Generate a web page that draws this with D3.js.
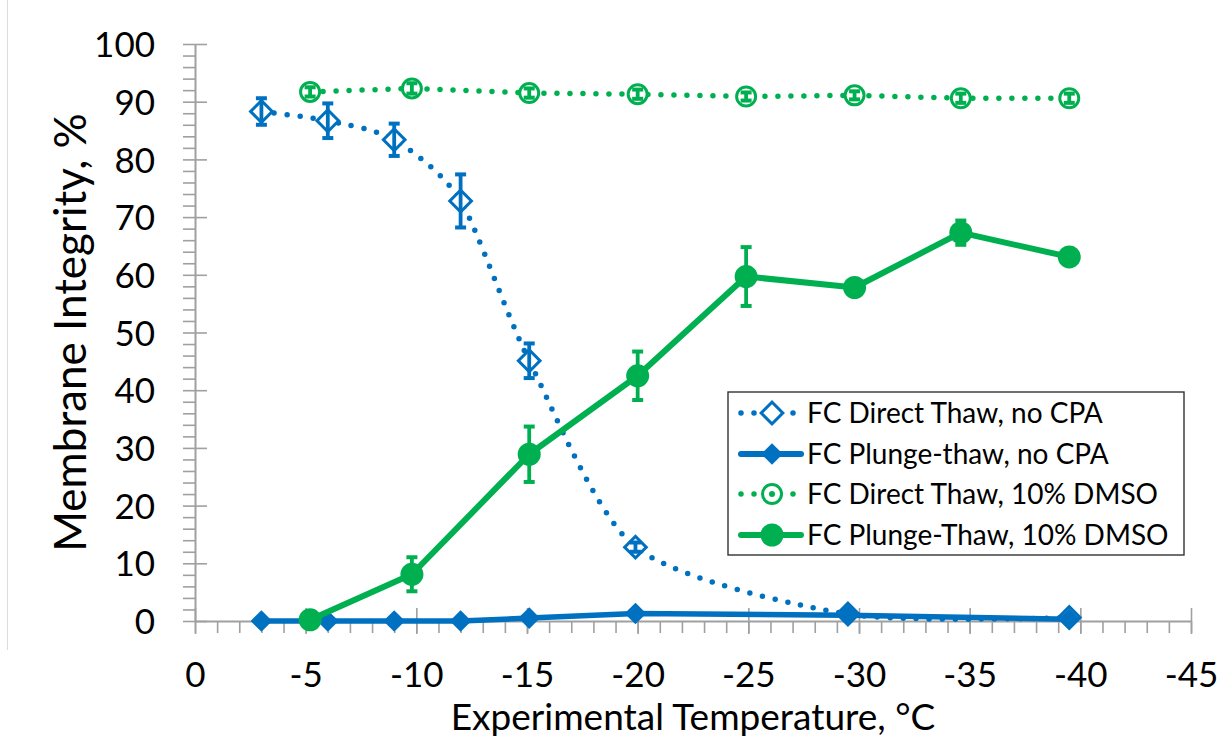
<!DOCTYPE html>
<html>
<head>
<meta charset="utf-8">
<script src="https://cdn.jsdelivr.net/npm/d3@7"></script>
<style>
  body { margin: 0; background: #fff; }
  svg { display: block; }
  text { font-family: Lato, "Open Sans", sans-serif; fill: #000; }
</style>
</head>
<body>
<svg id="chart" width="1223" height="740"></svg>
<script>
// Membrane integrity (%) vs. experimental temperature (°C)
const tempsNoCPA     = [-3, -6, -9, -12, -15.1, -19.9, -29.5, -39.5];
const directNoCPA    = [88.3, 86.7, 83.4, 72.8, 45.1, 12.8, 1.2, 0.6];
const directNoCPAErr = [2.3, 3.0, 2.8, 4.6, 3.0, 0.8, 0.4, 0.3];
const plungeNoCPA    = [0, 0, 0, 0, 0.5, 1.3, 1.0, 0.3];

const tempsDMSO      = [-5.2, -9.8, -15.1, -20, -24.9, -29.8, -34.6, -39.5];
const directDMSO     = [91.7, 92.3, 91.5, 91.3, 90.9, 91.1, 90.6, 90.6];
const directDMSOErr  = [0.8, 0.9, 0.8, 0.8, 0.7, 0.7, 0.8, 0.8];
const plungeDMSO     = [0.2, 8.1, 28.9, 42.5, 59.7, 57.8, 67.3, 63.1];
const plungeDMSOErr  = [0, 2.95, 4.8, 4.2, 5.1, 0.5, 2.1, 0.5];

const xTicks = [0, -5, -10, -15, -20, -25, -30, -35, -40, -45];
const yTicks = [0, 10, 20, 30, 40, 50, 60, 70, 80, 90, 100];
const xMinorTicks = d3.range(0, -46, -1);
const yMinorTicks = d3.range(0, 101, 2);

const seriesNames = [
  "FC Direct Thaw, no CPA",
  "FC Plunge-thaw, no CPA",
  "FC Direct Thaw, 10% DMSO",
  "FC Plunge-Thaw, 10% DMSO"
];

const BLUE = "#0070C0", GREEN = "#00B050", AXIS = "#A0A0A0";
const FONT = "Lato, 'Open Sans', sans-serif";

const svg = d3.select("#chart");
const x = d3.scaleLinear().domain([0, -45]).range([195, 1191]);
const y = d3.scaleLinear().domain([0, 100]).range([621, 44]);

// faint frame edge on the left
svg.append("line").attr("x1", 7.5).attr("x2", 7.5).attr("y1", 0).attr("y2", 650)
  .attr("stroke", "#DCDCDC").attr("stroke-width", 1);

// ---- axes ----
const axisFont = 35;

// y axis: minor ticks + domain line
svg.append("g").attr("transform", `translate(${x(0)},0)`)
  .call(d3.axisLeft(y).tickValues(yMinorTicks).tickSize(12).tickFormat("").tickSizeOuter(0));
// major ticks crossing the axis
svg.append("g").attr("transform", `translate(${x(0)},0)`)
  .call(d3.axisRight(y).tickValues(yTicks).tickSize(12).tickFormat("").tickSizeOuter(0))
  .call(g => g.select(".domain").remove());
// y labels
svg.append("g").attr("transform", `translate(${x(0)},0)`)
  .call(d3.axisLeft(y).tickValues(yTicks).tickSize(0).tickPadding(40))
  .call(g => g.select(".domain").remove())
  .selectAll("text").attr("dy", null).attr("y", 0.36 * axisFont)
  .style("font-size", axisFont + "px").style("font-family", FONT);

// x axis
svg.append("g").attr("transform", `translate(0,${y(0)})`)
  .call(d3.axisBottom(x).tickValues(xMinorTicks).tickSize(12).tickFormat("").tickSizeOuter(0));
svg.append("g").attr("transform", `translate(0,${y(0)})`)
  .call(d3.axisBottom(x).tickValues(xTicks).tickSize(13).tickFormat("").tickSizeOuter(0))
  .call(g => g.select(".domain").remove());
svg.append("g").attr("transform", `translate(0,${y(0)})`)
  .call(d3.axisTop(x).tickValues(xTicks).tickSize(13).tickFormat("").tickSizeOuter(0))
  .call(g => g.select(".domain").remove());
svg.append("g").attr("transform", `translate(0,${y(0)})`)
  .call(d3.axisBottom(x).tickValues(xTicks).tickSize(0).tickFormat(d => d === 0 ? "0" : "-" + Math.abs(d)))
  .call(g => g.select(".domain").remove())
  .selectAll("text").attr("dy", null).attr("y", 66)
  .style("font-size", axisFont + "px").style("font-family", FONT);

svg.selectAll(".domain").attr("stroke", AXIS).attr("stroke-width", 2);
svg.selectAll(".tick line").attr("stroke", AXIS).attr("stroke-width", 1.6);

// axis titles
svg.append("text")
  .attr("x", (x(0) + x(-45)) / 2).attr("y", 730)
  .attr("text-anchor", "middle")
  .style("font-size", "37px")
  .text("Experimental Temperature, °C");
svg.append("text")
  .attr("transform", `translate(86,${(y(0) + y(100)) / 2}) rotate(-90)`)
  .attr("text-anchor", "middle")
  .style("font-size", "44px")
  .text("Membrane Integrity, %");

// ---- series ----
const noCPA = tempsNoCPA.map((t, i) => ({ t, direct: directNoCPA[i], err: directNoCPAErr[i], plunge: plungeNoCPA[i] }));
const dmso = tempsDMSO.map((t, i) => ({ t, direct: directDMSO[i], derr: directDMSOErr[i], plunge: plungeDMSO[i], perr: plungeDMSOErr[i] }));

const dotted = (sel, color) => sel.attr("fill", "none").attr("stroke", color)
  .attr("stroke-width", 5.5).attr("stroke-linecap", "round").attr("stroke-dasharray", "0 13");

const diamondPath = d3.symbol(d3.symbolSquare, 235)();
const drawDiamond = (g, cx, cy, filled, color) => g.append("path")
  .attr("d", diamondPath)
  .attr("transform", `translate(${cx},${cy}) rotate(45)`)
  .attr("fill", filled ? color : "#fff")
  .attr("stroke", color).attr("stroke-width", filled ? 0 : 3);

const drawErr = (g, cx, val, err, color) => {
  if (!err) return;
  const y1 = y(val + err), y2 = y(val - err);
  g.append("line").attr("x1", cx).attr("x2", cx).attr("y1", y1).attr("y2", y2)
    .attr("stroke", color).attr("stroke-width", 3.8);
  [y1, y2].forEach(yy => g.append("line").attr("x1", cx - 5.5).attr("x2", cx + 5.5)
    .attr("y1", yy).attr("y2", yy).attr("stroke", color).attr("stroke-width", 4));
};

const plot = svg.append("g");

// FC Direct Thaw, no CPA (smoothed dotted line, open diamonds)
plot.append("path").datum(noCPA)
  .attr("d", d3.line().x(d => x(d.t)).y(d => y(d.direct)).curve(d3.curveCardinal.tension(0.25)))
  .call(dotted, BLUE);
const g1 = plot.append("g");
noCPA.forEach(d => drawDiamond(g1, x(d.t), y(d.direct), false, BLUE));
noCPA.forEach(d => drawErr(g1, x(d.t), d.direct, d.err, BLUE));

// FC Plunge-thaw, no CPA (solid line, filled diamonds)
plot.append("path").datum(noCPA)
  .attr("d", d3.line().x(d => x(d.t)).y(d => y(d.plunge)))
  .attr("fill", "none").attr("stroke", BLUE).attr("stroke-width", 5.5).attr("stroke-linejoin", "round");
const g2 = plot.append("g");
noCPA.forEach(d => drawDiamond(g2, x(d.t), y(d.plunge), true, BLUE));

// FC Direct Thaw, 10% DMSO (dotted line, open circles)
plot.append("path").datum(dmso)
  .attr("d", d3.line().x(d => x(d.t)).y(d => y(d.direct)))
  .call(dotted, GREEN);
const g3 = plot.append("g");
dmso.forEach(d => g3.append("circle").attr("cx", x(d.t)).attr("cy", y(d.direct)).attr("r", 9.5)
  .attr("fill", "#fff").attr("stroke", GREEN).attr("stroke-width", 3));
dmso.forEach(d => drawErr(g3, x(d.t), d.direct, d.derr, GREEN));

// FC Plunge-Thaw, 10% DMSO (solid line, filled circles)
plot.append("path").datum(dmso)
  .attr("d", d3.line().x(d => x(d.t)).y(d => y(d.plunge)))
  .attr("fill", "none").attr("stroke", GREEN).attr("stroke-width", 6).attr("stroke-linejoin", "round");
const g4 = plot.append("g");
dmso.forEach(d => drawErr(g4, x(d.t), d.plunge, d.perr, GREEN));
dmso.forEach(d => g4.append("circle").attr("cx", x(d.t)).attr("cy", y(d.plunge)).attr("r", 11.5).attr("fill", GREEN));

// ---- legend ----
const lg = svg.append("g");
lg.append("rect").attr("x", 728).attr("y", 392).attr("width", 456).attr("height", 163)
  .attr("fill", "#fff").attr("stroke", "#333").attr("stroke-width", 1.4);
const rowY = [413, 454, 494, 535];
const lx1 = 741, lx2 = 801, mx = 772;
seriesNames.forEach((name, i) => {
  const cy = rowY[i];
  const color = i < 2 ? BLUE : GREEN;
  const line = lg.append("line").attr("x1", lx1).attr("x2", lx2).attr("y1", cy).attr("y2", cy);
  if (i % 2 === 0) line.call(dotted, color);
  else line.attr("stroke", color).attr("stroke-width", 6).attr("stroke-linecap", "round");
  if (i === 0) drawDiamond(lg, mx, cy, false, color);
  if (i === 1) drawDiamond(lg, mx, cy, true, color);
  if (i === 2) {
    lg.append("circle").attr("cx", mx).attr("cy", cy).attr("r", 9.5).attr("fill", "#fff")
      .attr("stroke", color).attr("stroke-width", 3);
    lg.append("circle").attr("cx", mx).attr("cy", cy).attr("r", 3).attr("fill", color);
  }
  if (i === 3) lg.append("circle").attr("cx", mx).attr("cy", cy).attr("r", 11.5).attr("fill", color);
  lg.append("text").attr("x", 807).attr("y", cy + 10).style("font-size", "28px").text(name);
});
</script>
</body>
</html>
